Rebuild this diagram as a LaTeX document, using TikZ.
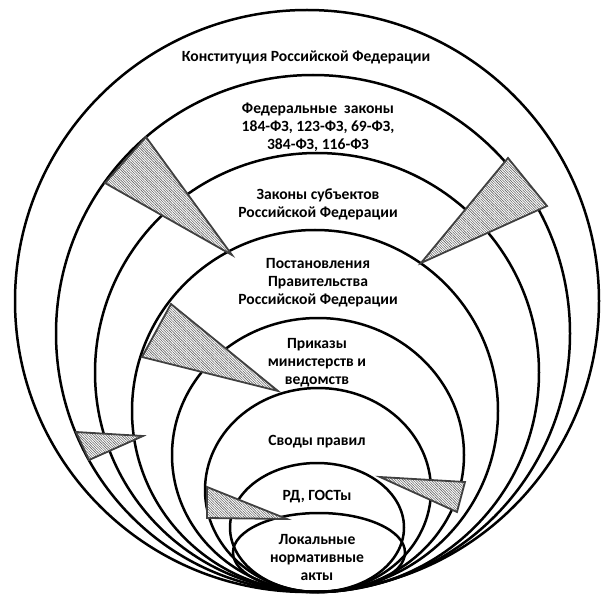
\documentclass[tikz,border=0pt]{standalone}
\usepackage{fontspec}
\setmainfont{Carlito}
\usetikzlibrary{patterns.meta}

\begin{document}
\begin{tikzpicture}[x=1pt, y=-1pt,
  ring/.style={draw=black, line width=2.5pt},
  lbl/.style={font=\bfseries\fontsize{15.6}{18}\selectfont, align=center, inner sep=0pt},
  wedge/.style={draw=black!75, line width=1.8pt, preaction={fill=white},
    pattern={Lines[angle=-45, distance=1.8pt, line width=0.6pt]}, pattern color=black!60}]
\useasboundingbox (0,0) rectangle (611,599);
% nested rings, all touching at the bottom
\draw[ring] (307,301) ellipse (292 and 291);
\draw[ring] (313,333.5) ellipse (257 and 258.5);
\draw[ring] (317,372.5) ellipse (222 and 219.5);
\draw[ring] (315,411) ellipse (183 and 181);
\draw[ring] (318,455) ellipse (146 and 137);
\draw[ring] (318,490) ellipse (113 and 102);
\draw[ring] (317,527.5) ellipse (87 and 64.5);
\draw[ring] (319,552.5) ellipse (86 and 39.5);
% hatched wedges
\draw[wedge] (146,137) -- (105,183) -- (232,255) -- cycle;
\draw[wedge] (508,158) -- (547,206) -- (421,263) -- cycle;
\draw[wedge] (171,304) -- (142,357) -- (278,391) -- cycle;
\draw[wedge] (76,432) -- (89,460) -- (143,436) -- cycle;
\draw[wedge] (207,487) -- (207,518) -- (287,519) -- cycle;
\draw[wedge] (380,477) -- (465,482) -- (457,512) -- cycle;
% labels
\node[lbl] (konst) at (306,57) {Конституция Российской Федерации};
\node[lbl] (fedzak) at (318,127.5) {Федеральные~ законы\\184-ФЗ, 123-ФЗ, 69-ФЗ,\\384-ФЗ, 116-ФЗ};
\node[lbl] (subzak) at (318,204) {Законы субъектов\\Российской Федерации};
\node[lbl] (postan) at (318,283) {Постановления\\Правительства\\Российской Федерации};
\node[lbl] (prikaz) at (317,363) {Приказы\\министерств и\\ведомств};
\node[lbl] (svody) at (317,442) {Своды правил};
\node[lbl] (rdgost) at (317,497) {РД, ГОСТы};
\node[lbl] (lokal) at (317,557) {Локальные\\нормативные\\акты};
\end{tikzpicture}
\end{document}
